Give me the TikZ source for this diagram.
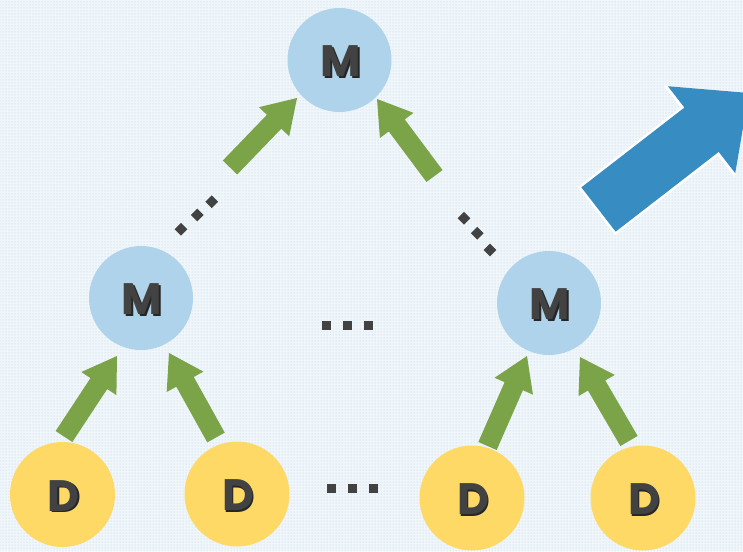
\documentclass[tikz,border=0pt]{standalone}
\usepackage{fontspec}
\setmainfont{Poppins}
\usetikzlibrary{calc,patterns}

\definecolor{mfill}{HTML}{AFD3EA}
\definecolor{dfill}{HTML}{FFD966}
\definecolor{garrow}{HTML}{7BA449}
\definecolor{barrow}{HTML}{378DC1}
\definecolor{ink}{HTML}{424242}
\definecolor{bgbase}{HTML}{F0F6FA}
\definecolor{bgdot}{HTML}{AFD1E8}

% block arrow: style, tail, tip, half shaft width, half head width, head length
\newcommand\blockarrow[6]{%
  \coordinate (#2-#3-c) at ($(#3)!#6!(#2)$);
  \fill[#1] ($(#2)!#4!90:(#3)$) -- ($(#2-#3-c)!#4!-90:(#2)$) --
    ($(#2-#3-c)!#5!-90:(#2)$) -- (#3) -- ($(#2-#3-c)!#5!90:(#2)$) --
    ($(#2-#3-c)!#4!90:(#2)$) -- ($(#2)!#4!-90:(#3)$) -- cycle;}

\tikzset{
  mnode/.style={circle, fill=mfill, minimum size=104pt, inner sep=0pt},
  dnode/.style={circle, fill=dfill, minimum size=105pt, inner sep=0pt},
  dotsq/.style={fill=ink, minimum size=9pt, inner sep=0pt, rectangle},
  lettr/.style={font=\fontsize{44}{44}\selectfont\bfseries, text=ink, inner sep=0pt},
}
% letter with a dark drop shadow behind it
\newcommand\shadowlabel[2]{%
  \node[lettr] (#1-txt) at ($(#1)+(1,2)$)
    {\rlap{\hspace{1.8pt}\raisebox{-1.8pt}{\color{black!85}#2}}#2};}

\begin{document}
\begin{tikzpicture}[x=1pt,y=-1pt]
\useasboundingbox (0,0) rectangle (743,551);
\clip (0,0) rectangle (743,551);
\fill[bgbase] (0,0) rectangle (743,551);
\fill[pattern=dots, pattern color=bgdot] (0,0) rectangle (743,551);

% circles
\node[mnode] (mtop) at (339.5,60) {};
\node[mnode] (mleft) at (141,298) {};
\node[mnode] (mright) at (549,303) {};
\node[dnode] (d1) at (62.5,494.5) {};
\node[dnode] (d2) at (237,494) {};
\node[dnode] (d3) at (472,498) {};
\node[dnode] (d4) at (643,498) {};

\shadowlabel{mtop}{M}
\shadowlabel{mleft}{M}
\shadowlabel{mright}{M}
\shadowlabel{d1}{D}
\shadowlabel{d2}{D}
\shadowlabel{d3}{D}
\shadowlabel{d4}{D}

% arrow ends
\coordinate (t1) at (230,167.5);   \coordinate (h1) at (297,98);
\coordinate (t2) at (434.5,176);   \coordinate (h2) at (377,99);
\coordinate (t3) at (64,436.5);    \coordinate (h3) at (117,356);
\coordinate (t4) at (216,437.5);   \coordinate (h4) at (169,353);
\coordinate (t5) at (487.5,446);   \coordinate (h5) at (527,356);
\coordinate (t6) at (629,441);     \coordinate (h6) at (580,357);
\coordinate (tb) at (598.5,209.5); \coordinate (hb) at (749,93);

\blockarrow{garrow}{t1}{h1}{10pt}{21pt}{33pt}
\blockarrow{garrow}{t2}{h2}{10pt}{21pt}{33pt}
\blockarrow{garrow}{t3}{h3}{10pt}{21pt}{33pt}
\blockarrow{garrow}{t4}{h4}{10pt}{21pt}{33pt}
\blockarrow{garrow}{t5}{h5}{10pt}{21pt}{33pt}
\blockarrow{garrow}{t6}{h6}{10pt}{21pt}{33pt}

% big blue arrow with a thin white rim
\coordinate (tbw) at ($(tb)!-2.5pt!(hb)$);
\blockarrow{white}{tbw}{hb}{30.5pt}{58pt}{63pt}
\blockarrow{barrow}{tb}{hb}{28pt}{55pt}{60pt}

% ellipsis marks
\foreach \x [count=\i] in {326.5,347.5,368.5}
  \node[dotsq] (ma\i) at (\x,325) {};
\foreach \x [count=\i] in {331,352,373}
  \node[dotsq] (mb\i) at (\x,488) {};
\foreach \p [count=\i] in {(181,229.3),(197.3,215),(211.7,201.7)}
  \node[dotsq, rotate=45] (ml\i) at \p {};
\foreach \p [count=\i] in {(464,218.3),(477.3,233.3),(490,250)}
  \node[dotsq, rotate=45] (mr\i) at \p {};
\end{tikzpicture}
\end{document}
